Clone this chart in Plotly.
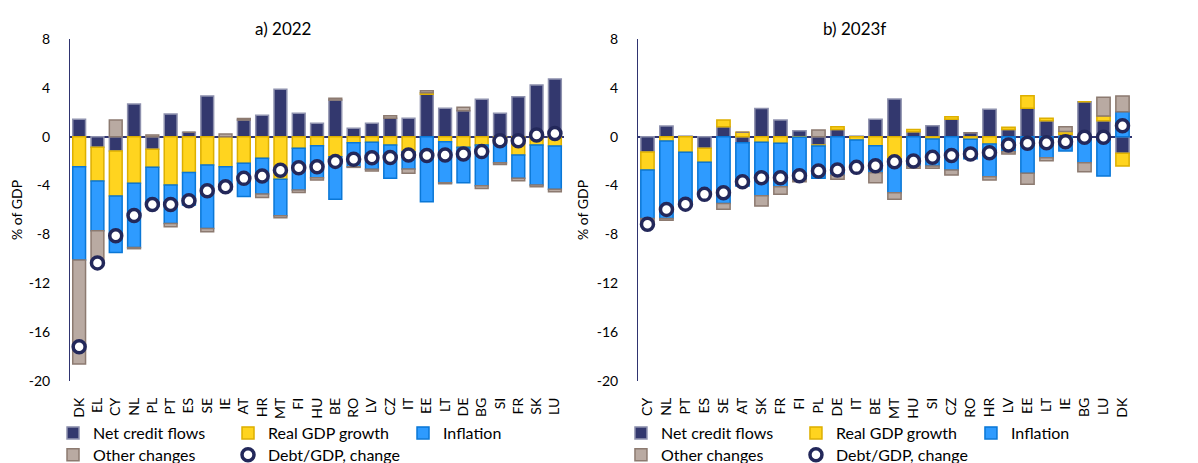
import plotly.graph_objects as go
from plotly.subplots import make_subplots

# ---------------- data ----------------
countries22 = ["DK", "EL", "CY", "NL", "PL", "PT", "ES", "SE", "IE", "AT", "HR", "MT", "FI", "HU",
               "BE", "RO", "LV", "CZ", "IT", "EE", "LT", "DE", "BG", "SI", "FR", "SK", "LU"]
net22 = [1.43, -0.87, -1.17, 2.68, -1.03, 1.85, 0.36, 3.34, 0.0, 1.37, 1.75, 3.88, 1.92, 1.10,
         3.00, 0.69, 1.10, 1.51, 1.51, 3.47, 2.33, 2.13, 3.07, 1.92, 3.28, 4.24, 4.73]
gdp22 = [-2.46, -2.76, -3.69, -3.82, -1.48, -3.96, -2.92, -2.32, -2.46, -2.18, -1.77, -3.49, -0.95, -0.74,
         -1.64, -0.49, -0.46, -0.68, -1.23, 0.13, -0.41, -0.87, -0.68, -0.49, -1.50, -0.68, -0.76]
inf22 = [-7.64, -4.07, -4.62, -5.25, -3.19, -3.14, -2.68, -5.19, -1.86, -2.72, -2.93, -2.98, -3.42, -2.62,
         -3.49, -1.97, -2.21, -2.73, -1.42, -5.33, -3.36, -2.90, -3.34, -1.64, -1.91, -3.28, -3.55]
oth22 = [-8.50, -2.63, 1.36, -0.10, 0.15, -0.28, 0.0, -0.27, 0.22, 0.13, -0.27, -0.17, -0.19, -0.19,
         0.15, -0.05, -0.14, 0.21, -0.35, 0.17, -0.08, 0.28, -0.21, -0.14, -0.19, -0.14, -0.19]
debt22 = [-17.2, -10.33, -8.1, -6.45, -5.55, -5.55, -5.24, -4.42, -4.1, -3.41, -3.22, -2.75, -2.54, -2.46,
          -2.02, -1.84, -1.72, -1.7, -1.5, -1.53, -1.5, -1.42, -1.22, -0.33, -0.33, 0.14, 0.26]

countries23 = ["CY", "NL", "PT", "ES", "SE", "AT", "SK", "FR", "FI", "PL", "DE", "IT", "BE", "MT",
               "HU", "SI", "CZ", "RO", "HR", "LV", "EE", "LT", "IE", "BG", "LU", "DK"]
net23 = [-1.25, 0.88, 0.05, -0.95, 0.82, -0.49, 2.30, 1.37, 0.49, -0.68, 0.60, 0.05, 1.42, 3.09,
         0.41, 0.90, 1.42, 0.33, 2.24, 0.60, 2.33, 1.31, 0.20, 2.87, 1.31, -1.36]
gdp23 = [-1.48, -0.35, -1.28, -1.15, 0.55, 0.36, -0.46, -0.54, -0.05, -0.07, 0.22, -0.27, -0.74, -1.85,
         0.19, -0.19, 0.22, -0.20, -0.60, 0.17, 1.03, 0.20, 0.22, 0.0, 0.39, -1.04]
inf23 = [-3.96, -6.34, -4.18, -2.40, -5.46, -3.55, -4.37, -3.56, -3.44, -2.66, -3.14, -2.05, -2.21, -2.74,
         -2.40, -2.21, -2.73, -1.60, -2.68, -1.23, -3.00, -1.72, -1.17, -2.13, -3.22, 2.05]
oth23 = [-0.47, -0.14, -0.10, -0.22, -0.47, 0.0, -0.85, -0.62, -0.20, 0.55, -0.35, -0.19, -0.82, -0.54,
         -0.19, -0.19, -0.41, 0.0, -0.27, -0.19, -0.90, -0.25, 0.40, -0.74, 1.53, 1.29]
debt23 = [-7.16, -5.95, -5.52, -4.72, -4.59, -3.69, -3.36, -3.36, -3.2, -2.81, -2.73, -2.51, -2.38, -2.05,
          -1.99, -1.69, -1.53, -1.42, -1.31, -0.68, -0.54, -0.49, -0.41, -0.05, -0.05, 0.9]

series_names = ["Net credit flows", "Real GDP growth", "Inflation", "Other changes", "Debt/GDP, change"]
panel_titles = ["a) 2022", "b) 2023f"]
y_tickvals = [8, 4, 0, -4, -8, -12, -16, -20]
y_ticktext = ["8", "4", "0", "-4", "-8", "-12", "-16", "-20"]

# ---------------- styles ----------------
FONT = "Lato"
fills = ["#33386E", "#FFD41F", "#2E9BFF", "#B9AAA2"]
edges = ["#8E91AE", "#DDAF00", "#0A77D6", "#8C7A70"]
DOT_EDGE = "#23285A"
AXIS_COL = "#2F3470"

fig = make_subplots(rows=1, cols=2, horizontal_spacing=0.0696)

panels = [
    (countries22, [net22, gdp22, inf22, oth22], debt22, ("legend", "legend2")),
    (countries23, [net23, gdp23, inf23, oth23], debt23, ("legend3", "legend4")),
]

for col, (cats, bars, debt, legs) in enumerate(panels, start=1):
    for i, vals in enumerate(bars):
        fig.add_trace(go.Bar(
            x=cats, y=vals, name=series_names[i],
            marker=dict(color=fills[i], line=dict(color=edges[i], width=1.5)),
            legend=legs[0] if i < 3 else legs[1],
        ), row=1, col=col)
    fig.add_trace(go.Scatter(
        x=cats, y=debt, name=series_names[4], mode="markers",
        marker=dict(symbol="circle", size=12, color="white",
                    line=dict(color=DOT_EDGE, width=3.5)),
        legend=legs[1],
    ), row=1, col=col)
    fig.update_xaxes(range=[-0.5, len(cats) - 0.5], row=1, col=col)

for col in (1, 2):
    fig.update_yaxes(range=[-20, 8], tickvals=y_tickvals, ticktext=y_ticktext,
                     showgrid=False, showline=True, linecolor=AXIS_COL, linewidth=1,
                     zeroline=True, zerolinecolor=AXIS_COL, zerolinewidth=1.5,
                     ticks="", ticklabelstandoff=16,
                     tickfont=dict(family=FONT, size=14, color="#000"),
                     title=dict(text="% of GDP", font=dict(family=FONT, size=14, color="#000"),
                                standoff=4),
                     row=1, col=col)
    fig.update_xaxes(showgrid=False, showline=False, zeroline=False, tickangle=-90,
                     tickmode="linear", dtick=1,
                     ticks="", ticklabelstandoff=13,
                     tickfont=dict(family=FONT, size=14, color="#000"),
                     row=1, col=col)

legend_common = dict(orientation="h", xanchor="left", yanchor="middle",
                     entrywidth=130, entrywidthmode="pixels",
                     font=dict(family=FONT, size=16, color="#000"),
                     bgcolor="rgba(0,0,0,0)", itemclick=False, tracegroupgap=0)

fig.update_layout(
    width=1190, height=455,
    barmode="relative", bargap=0.3,
    plot_bgcolor="white", paper_bgcolor="white",
    margin=dict(l=62, r=66, t=31, b=82, autoexpand=False),
    font=dict(family=FONT, color="#000"),
    legend=dict(x=-0.016, y=-0.152, **legend_common),
    legend2=dict(x=-0.016, y=-0.216, **legend_common),
    legend3=dict(x=0.5188, y=-0.152, **legend_common),
    legend4=dict(x=0.5188, y=-0.216, **legend_common),
    annotations=[
        dict(text=panel_titles[0], x=0.2006, y=1.032, xref="paper", yref="paper",
             showarrow=False, font=dict(family=FONT, size=17, color="#000"),
             xanchor="center", yanchor="middle"),
        dict(text=panel_titles[1], x=0.739, y=1.032, xref="paper", yref="paper",
             showarrow=False, font=dict(family=FONT, size=17, color="#000"),
             xanchor="center", yanchor="middle"),
    ],
)

fig.write_html("out.html")
